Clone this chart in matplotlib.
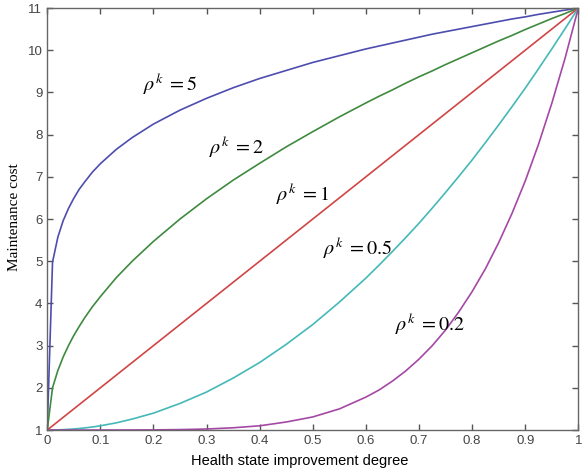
import matplotlib
matplotlib.use("Agg")
import matplotlib.pyplot as plt
import numpy as np

# values
x = [0, 0.01, 0.02, 0.03, 0.04, 0.05, 0.06, 0.07, 0.085, 0.10, 0.13, 0.16, 0.20, 0.25, 0.30, 0.35,
     0.40, 0.45, 0.50, 0.55, 0.60, 0.625, 0.65, 0.675, 0.70, 0.725, 0.75, 0.775, 0.80,
     0.825, 0.85, 0.875, 0.90, 0.925, 0.95, 0.975, 1.00]

cost_rho5 = [1, 4.98, 5.57, 5.96, 6.25, 6.49, 6.70, 6.87, 7.11, 7.31, 7.65, 7.93, 8.25, 8.58, 8.86, 9.11,
             9.33, 9.52, 9.71, 9.87, 10.03, 10.10, 10.17, 10.24, 10.31, 10.38, 10.44, 10.50, 10.56,
             10.62, 10.68, 10.74, 10.79, 10.85, 10.90, 10.95, 11]
cost_rho2 = [1, 2.00, 2.41, 2.73, 3.00, 3.24, 3.45, 3.65, 3.92, 4.16, 4.61, 5.00, 5.47, 6.00, 6.48, 6.92,
             7.32, 7.71, 8.07, 8.42, 8.75, 8.91, 9.06, 9.22, 9.37, 9.51, 9.66, 9.80, 9.94,
             10.08, 10.22, 10.35, 10.49, 10.62, 10.75, 10.87, 11]
cost_rho1 = [1, 1.1, 1.2, 1.3, 1.4, 1.5, 1.6, 1.7, 1.85, 2.0, 2.3, 2.6, 3.0, 3.5, 4.0, 4.5,
             5.0, 5.5, 6.0, 6.5, 7.0, 7.25, 7.5, 7.75, 8.0, 8.25, 8.5, 8.75, 9.0,
             9.25, 9.5, 9.75, 10.0, 10.25, 10.5, 10.75, 11]
cost_rho05 = [1, 1.001, 1.004, 1.009, 1.016, 1.025, 1.036, 1.049, 1.072, 1.10, 1.17, 1.26, 1.40, 1.63, 1.90, 2.23,
              2.60, 3.03, 3.50, 4.03, 4.60, 4.91, 5.23, 5.56, 5.90, 6.26, 6.63, 7.01, 7.40,
              7.81, 8.23, 8.66, 9.10, 9.56, 10.03, 10.51, 11]
cost_rho02 = [1, 1.0, 1.0, 1.0, 1.0, 1.0, 1.0, 1.0, 1.0, 1.0, 1.0004, 1.001, 1.003, 1.01, 1.024, 1.053,
              1.10, 1.19, 1.31, 1.50, 1.78, 1.95, 2.16, 2.40, 2.68, 3.00, 3.37, 3.80, 4.28,
              4.82, 5.44, 6.13, 6.90, 7.77, 8.74, 9.81, 11]

labels = [r"$\rho^k\;=5$", r"$\rho^k\;=2$", r"$\rho^k\;=1$", r"$\rho^k\;=0.5$", r"$\rho^k\;=0.2$"]
label_x = [0.18, 0.305, 0.43, 0.52, 0.655]
label_y = [9.2, 7.7, 6.6, 5.3, 3.5]

series = [cost_rho5, cost_rho2, cost_rho1, cost_rho05, cost_rho02]
colors = ["#4d4db0", "#3f8a3f", "#d04545", "#45b8b8", "#a548a5"]

plt.rcParams["mathtext.fontset"] = "stix"

fig = plt.figure(figsize=(5.83, 4.71), dpi=100)
ax = fig.add_axes([0.081, 0.087, 0.911, 0.896])

for ys, c in zip(series, colors):
    ax.plot(x, ys, color=c, lw=1.2)

for lx, ly, t in zip(label_x, label_y, labels):
    ax.text(lx, ly, t, fontsize=14.5, va="center", ha="left")

ax.set_xlim(0, 1)
ax.set_ylim(1, 11)
ax.set_xticks(np.arange(0, 1.01, 0.1))
ax.set_xticklabels(["0", "0.1", "0.2", "0.3", "0.4", "0.5", "0.6", "0.7", "0.8", "0.9", "1"])
ax.set_yticks(range(1, 12))

ax.tick_params(direction="in", top=True, right=True, length=4, width=1,
               color="#555555", labelcolor="#444444", labelsize=9.5,
               labelfontfamily="Liberation Sans")
for s in ax.spines.values():
    s.set_color("#666666")
    s.set_linewidth(1)

ax.set_xlabel("Health state improvement degree", family="Liberation Sans", fontsize=10.5)
ax.set_ylabel("Maintenance cost", family="Liberation Serif", fontsize=11)
ax.xaxis.set_label_coords(0.476, -0.058)
ax.yaxis.set_label_coords(-0.05, 0.505)

fig.savefig("out.png", dpi=100)
